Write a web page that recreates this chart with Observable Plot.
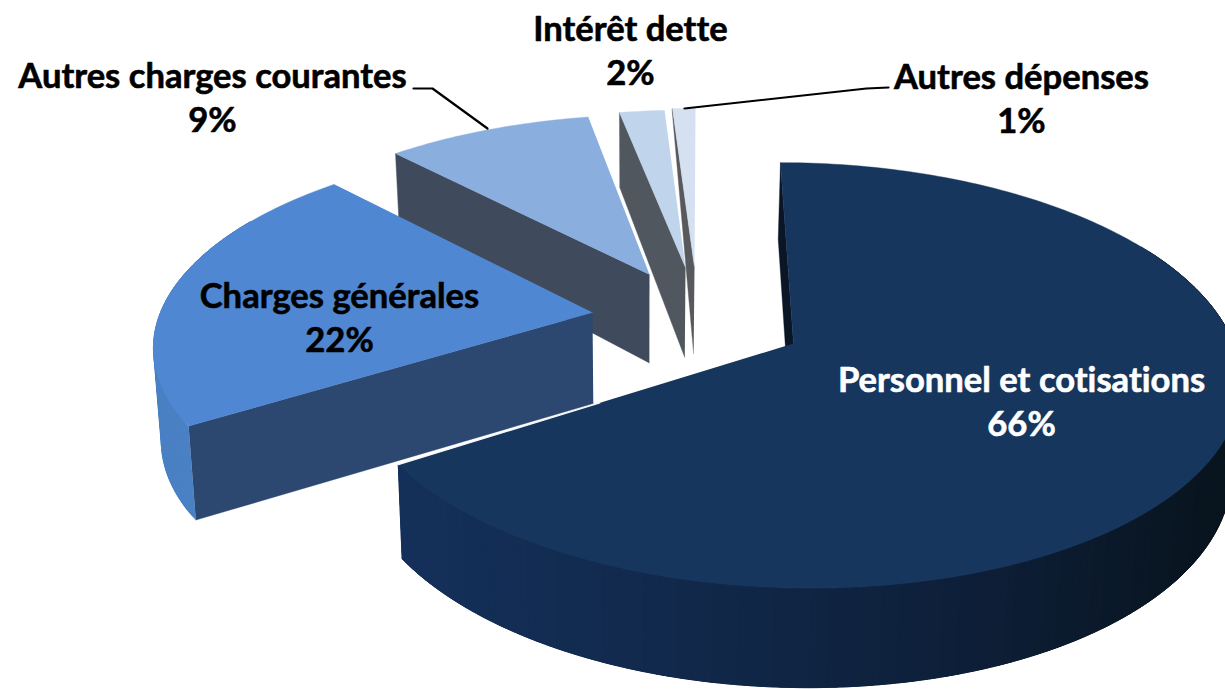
<!DOCTYPE html>
<html lang="fr">
<head>
<meta charset="utf-8">
<style>html,body{margin:0;padding:0;background:#fff;overflow:hidden}
svg text{font-variant-ligatures:none}</style>
<script src="https://cdn.jsdelivr.net/npm/d3@7"></script>
<script src="https://cdn.jsdelivr.net/npm/@observablehq/plot@0.6"></script>
</head>
<body>
<div id="chart"></div>
<script>
// Data
const categories = ["Personnel et cotisations", "Charges générales", "Autres charges courantes", "Intérêt dette", "Autres dépenses"];
const shares = [66, 22, 9, 2, 1];

// Exploded 3D pie layout (screen units of the x / y scales)
const apexX = [793, 592, 649, 685, 694];
const apexY = [343, 312, 274, 267, 267];
const radiusX = [440, 432, 421, 415, 421];
const skew = [-15, 12.5, 8.8, 2, 1.15];
const radiusY = [208, 195, 184, 181, 183];
const depth = [88, 91, 88.5, 90, 86];
const depthFalloff = [0.13, 0.06, 0.17, 0.17, 1];
const perspective = 0.15;
const vanishX = 640;
const converge = 0.016;

// Styles
const topColors = ["#17365d", "#5087d2", "#8aafde", "#c0d4ec", "#d5e0f0"];
const faceColors = ["#0a1626", "#2c4770", "#3f4b5c", "#50575f", "#58595d"];
const rimStops = [
  ["#14305a", "#11284a", "#0d1e36", "#08141e"],
  ["#4a80c4", "#4a80c4", "#4a80c4", "#4a80c4"]
];
const labelX = [1021, 339, 212, 630, 1021];
const labelY = [399, 315, 95, 48, 96];
const labelFill = ["#fff", "#000", "#000", "#000", "#000"];
const leaderX = [[413, 432, 487], [888, 866, 684]];
const leaderY = [[88, 88, 128], [87, 88, 108]];

const arcs = d3.pie().sort(null)(shares);
const rimPoint = (i, t) => {
  const k = 1 / (1 + perspective * Math.cos(t));
  return [
    apexX[i] + (radiusX[i] * Math.sin(t) + skew[i] * Math.cos(t)) * k,
    apexY[i] - radiusY[i] * Math.cos(t) * k
  ];
};
const drop = (i, [x, y], c) => [x + (vanishX - x) * converge, y + depth[i] * (1 - depthFalloff[i] * c)];
const apexPoint = i => [apexX[i], apexY[i]];

const polys = [];
let polyId = 0;
const poly = (pts, color) => {
  const id = polyId++;
  for (const [x, y] of pts) polys.push({id, x, y, color});
};
const step = Math.PI / 180;

for (let i = shares.length - 1; i >= 0; --i) {
  const {startAngle: a0, endAngle: a1} = arcs[i];
  // radial face at the start of the slice
  const rim = rimPoint(i, a0);
  poly([apexPoint(i), rim, drop(i, rim, Math.cos(a0)), drop(i, apexPoint(i), 0)], faceColors[i]);
  // outer curved wall: overlapping bands, painted from the far end so no seam shows
  if (i < 2) {
    const from = Math.max(a0, i === 0 ? Math.PI / 3 : a0);
    const to = Math.min(a1, 5 * Math.PI / 3);
    const ramp = d3.scaleLinear().domain([400, 700, 1000, 1220]).range(rimStops[i]).clamp(true);
    for (let t = from; t < to; t += step) {
      const band = d3.range(t, Math.min(t + 4 * step, to), step / 2).concat(Math.min(t + 4 * step, to));
      const upper = band.map(u => rimPoint(i, u));
      const lower = band.map(u => drop(i, rimPoint(i, u), Math.cos(u))).reverse();
      poly(upper.concat(lower), ramp(rimPoint(i, t)[0]));
    }
  }
  // top face
  const face = [apexPoint(i)];
  for (let t = a0; t < a1; t += step) face.push(rimPoint(i, t));
  face.push(rimPoint(i, a1));
  poly(face, topColors[i]);
}

// thin white seam along the big slice's radial edge
const seamEnd = rimPoint(0, arcs[0].endAngle);
const seam = [0.49, 1].map(f => ({
  x: apexX[0] + (seamEnd[0] - apexX[0]) * f,
  y: apexY[0] + (seamEnd[1] - apexY[0]) * f
}));

const leaders = leaderX.flatMap((xs, id) => xs.map((x, j) => ({id, x, y: leaderY[id][j]})));
const labels = categories.map((name, i) => ({
  text: `${name}\n${shares[i]}%`,
  x: labelX[i],
  y: labelY[i],
  fill: labelFill[i]
}));

const chart = Plot.plot({
  width: 1225,
  height: 689,
  margin: 0,
  x: {domain: [0, 1225], range: [0, 1225], axis: null},
  y: {domain: [0, 689], range: [0, 689], axis: null},
  color: {type: "identity"},
  style: {background: "#fff"},
  marks: [
    Plot.line(polys, {x: "x", y: "y", z: "id", fill: "color", stroke: "color", strokeWidth: 0.4, curve: "linear", clip: "frame"}),
    Plot.line(seam, {x: "x", y: "y", stroke: "#f4f6fa", strokeWidth: 1.2}),
    Plot.line(leaders, {x: "x", y: "y", z: "id", stroke: "#000", strokeWidth: 2.2}),
    Plot.text(labels, {
      x: "x", y: "y", text: "text", fill: "fill", stroke: "fill", strokeWidth: 0.6,
      fontFamily: "Lato", fontWeight: 700, fontSize: 34.6, lineHeight: 1.275,
      textAnchor: "middle", lineAnchor: "middle"
    })
  ]
});
document.getElementById("chart").appendChild(chart);
</script>
</body>
</html>
